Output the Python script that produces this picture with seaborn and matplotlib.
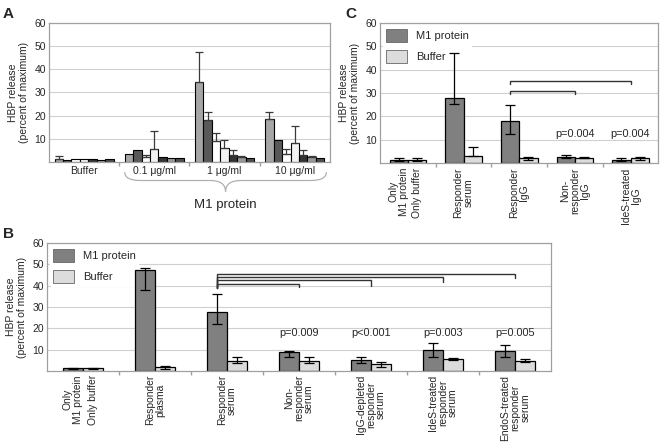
import numpy as np
import pandas as pd
import seaborn as sns
import matplotlib.pyplot as plt
from matplotlib.path import Path
from matplotlib.patches import PathPatch
import matplotlib.transforms as mtransforms

sns.set_theme(style='white')
plt.rcParams['font.family'] = ['Liberation Sans', 'DejaVu Sans']

# ---- panel A data (7 donors x 4 conditions) ----
a_groups = ['Buffer', '0.1 μg/ml', '1 μg/ml', '10 μg/ml']
a_donors = ['D1', 'D2', 'D3', 'D4', 'D5', 'D6', 'D7']
a_values = [
    [1.2, 3.5, 34.5, 18.5],
    [0.8, 5.0, 18.0, 9.5],
    [1.3, 2.0, 9.0, 3.5],
    [1.3, 5.5, 6.0, 8.0],
    [1.3, 2.0, 3.0, 3.0],
    [0.8, 1.5, 2.0, 2.0],
    [1.3, 1.5, 1.5, 1.5],
]
a_err_up = [
    [1.3, 0.0, 13.0, 3.0],
    [0.0, 0.0, 3.5, 0.0],
    [0.0, 1.0, 3.5, 2.0],
    [0.0, 8.0, 3.5, 7.5],
    [0.0, 0.0, 2.0, 2.0],
    [0.0, 0.0, 0.5, 0.5],
    [0.0, 0.0, 0.0, 0.0],
]
a_colors = ['#a6a6a6', '#595959', '#ffffff', '#f2f2f2', '#333333', '#999999', '#4d4d4d']

# ---- panel B data ----
b_groups = ['Only', 'Responder\nplasma', 'Responder\nserum', 'Non-\nresponder\nserum',
            'IgG-depleted\nresponder\nserum', 'IdeS-treated\nresponder\nserum',
            'EndoS-treated\nresponder\nserum']
b_m1 = [1.2, 47.5, 27.5, 8.8, 5.0, 10.0, 9.5]
b_m1_lo = [1.0, 38.0, 22.0, 6.5, 3.8, 6.5, 6.5]
b_m1_hi = [1.5, 48.5, 36.0, 9.5, 6.5, 13.0, 12.0]
b_buf = [1.2, 1.8, 4.8, 4.7, 3.0, 5.7, 4.8]
b_buf_lo = [1.0, 0.8, 3.5, 3.5, 2.0, 5.2, 4.0]
b_buf_hi = [1.4, 2.2, 6.5, 6.5, 4.0, 6.0, 5.5]
b_pvals = ['', '', '', 'p=0.009', 'p<0.001', 'p=0.003', 'p=0.005']

# ---- panel C data ----
c_groups = ['Only', 'Responder\nserum', 'Responder\nIgG', 'Non-\nresponder\nIgG', 'IdeS-treated\nIgG']
c_m1 = [1.5, 28.0, 18.0, 2.8, 1.5]
c_m1_lo = [0.8, 25.5, 12.5, 2.3, 0.8]
c_m1_hi = [2.3, 47.0, 25.0, 3.3, 2.3]
c_buf = [1.5, 3.0, 2.0, 2.3, 2.0]
c_buf_lo = [0.8, 3.0, 1.5, 2.0, 1.3]
c_buf_hi = [2.3, 7.0, 2.5, 2.5, 2.7]
c_pvals = ['', '', '', 'p=0.004', 'p=0.004']

first_labels = ['Only\nM1 protein', 'Only buffer']
treat = ['M1 protein', 'Buffer']
treat_colors = ['#808080', '#dcdcdc']

FS = 7.5
YLABEL = 'HBP release\n(percent of maximum)'


def style_axes(ax, ngroups):
    ax.set_ylim(0, 60)
    ax.set_yticks([10, 20, 30, 40, 50, 60])
    ax.set_xlim(-0.5, ngroups - 0.5)
    ax.yaxis.grid(True, color='#d0d0d0', lw=0.8)
    ax.set_axisbelow(True)
    for s in ax.spines.values():
        s.set_color('#a0a0a0')
        s.set_linewidth(0.9)
    ax.set_xticks(np.arange(ngroups - 1) + 0.5, minor=True)
    ax.tick_params(axis='x', which='minor', length=3, color='#a0a0a0', bottom=True)
    ax.tick_params(axis='x', which='major', length=0, labelsize=FS, pad=3)
    ax.tick_params(axis='y', length=0, labelsize=FS, pad=2)
    ax.set_xlabel('')
    ax.set_ylabel(YLABEL, fontsize=FS, linespacing=1.1)


def paired_panel(ax, groups, m1, m1_lo, m1_hi, buf, buf_lo, buf_hi, pvals, width, p_y):
    df = pd.DataFrame({
        'group': groups * 2,
        'treat': [treat[0]] * len(groups) + [treat[1]] * len(groups),
        'value': m1 + buf,
    })
    sns.barplot(data=df, x='group', y='value', hue='treat', order=groups,
                hue_order=treat, palette=treat_colors, errorbar=None,
                width=width, edgecolor='black', linewidth=0.9, ax=ax, legend=False,
                saturation=1)
    style_axes(ax, len(groups))
    centers = []
    for cont, vals, lo, hi in zip(ax.containers, [m1, buf], [m1_lo, buf_lo], [m1_hi, buf_hi]):
        xs = [b.get_x() + b.get_width() / 2 for b in cont]
        centers.append(xs)
        v = np.array(vals)
        ax.errorbar(xs, v, yerr=[v - np.array(lo), np.array(hi) - v], fmt='none',
                    ecolor='black', elinewidth=0.9, capsize=3.5, capthick=0.9)
    ticks = [centers[0][0], centers[1][0]] + list(range(1, len(groups)))
    ax.set_xticks(ticks)
    ax.set_xticklabels(first_labels + groups[1:], rotation=90, fontsize=7.4,
                       multialignment='center', linespacing=1.0)
    for i, p in enumerate(pvals):
        if p:
            ax.text(i, p_y, p, ha='center', va='center', fontsize=7.8)
    handles = [plt.Rectangle((0, 0), 1, 1, fc=c, ec='#666666', lw=0.6) for c in treat_colors]
    leg = ax.legend(handles, treat, loc='upper left', fontsize=8, frameon=True,
                    facecolor='white', edgecolor='none', framealpha=1,
                    handlelength=1.9, handleheight=1.4, borderaxespad=0.25,
                    borderpad=0.3, labelspacing=0.75, handletextpad=0.8)
    leg.set_zorder(0.8)
    return centers


def bracket(ax, x0, x1, y, y0_end, y1_end, color='#333333'):
    ax.plot([x0, x0, x1, x1], [y0_end, y, y, y1_end], color=color, lw=1.0,
            solid_joinstyle='miter')


fig = plt.figure(figsize=(6.61, 4.42), dpi=100)
axA = fig.add_axes([0.074, 0.634, 0.425, 0.314])
axC = fig.add_axes([0.575, 0.631, 0.421, 0.317])
axB = fig.add_axes([0.071, 0.161, 0.763, 0.289])

# ---- panel A ----
dfa = pd.DataFrame({
    'group': a_groups * len(a_donors),
    'donor': [d for d in a_donors for _ in a_groups],
    'value': [v for row in a_values for v in row],
})
sns.barplot(data=dfa, x='group', y='value', hue='donor', order=a_groups,
            hue_order=a_donors, palette=a_colors, errorbar=None, width=0.84,
            edgecolor='black', linewidth=0.8, ax=axA, legend=False, saturation=1)
style_axes(axA, len(a_groups))
axA.set_xticks(range(len(a_groups)))
axA.set_xticklabels(a_groups, fontsize=FS)
for cont, vals, errs in zip(axA.containers, a_values, a_err_up):
    for b, v, e in zip(cont, vals, errs):
        if e > 0:
            axA.errorbar(b.get_x() + b.get_width() / 2, v, yerr=[[0], [e]], fmt='none',
                         ecolor='#3a3a3a', elinewidth=0.9, capsize=2.8, capthick=0.9)

# curly brace under the M1 protein groups
trans = mtransforms.blended_transform_factory(axA.transData, axA.transAxes)
x0, x1 = 0.58, 3.45
xc = (x0 + x1) / 2
yt, ym, yb = -0.075, -0.135, -0.215
r = 0.22
verts = [(x0, yt), (x0, ym), (x0 + r, ym),
         (xc - r, ym), (xc, ym), (xc, yb),
         (xc, ym), (xc + r, ym),
         (x1 - r, ym), (x1, ym), (x1, yt)]
codes = [Path.MOVETO, Path.CURVE3, Path.CURVE3,
         Path.LINETO, Path.CURVE3, Path.CURVE3,
         Path.CURVE3, Path.CURVE3,
         Path.LINETO, Path.CURVE3, Path.CURVE3]
axA.add_patch(PathPatch(Path(verts, codes), transform=trans, fill=False,
                        ec='#b0b0b0', lw=0.9, clip_on=False))
axA.text(xc, -0.31, 'M1 protein', transform=trans, ha='center', va='center', fontsize=9.5)

# ---- panel B ----
cB = paired_panel(axB, b_groups, b_m1, b_m1_lo, b_m1_hi, b_buf, b_buf_lo, b_buf_hi,
                  b_pvals, 0.56, 17.8)
start = cB[0][2]
for g, lev, end in [(3, 40.8, 39.5), (4, 42.7, 40.0), (5, 44.0, 41.7), (6, 45.3, 43.6)]:
    bracket(axB, start, g, lev, 39.0, end)

# ---- panel C ----
cC = paired_panel(axC, c_groups, c_m1, c_m1_lo, c_m1_hi, c_buf, c_buf_lo, c_buf_hi,
                  c_pvals, 0.66, 12.4)
start = cC[0][2]
bracket(axC, start, 3, 30.9, 29.6, 29.6)
bracket(axC, start, 4, 35.1, 33.8, 33.8)

for lab, x, y in [('A', 0.004, 0.985), ('B', 0.004, 0.487), ('C', 0.522, 0.985)]:
    fig.text(x, y, lab, fontsize=11, fontweight='bold', ha='left', va='top')

fig.savefig('out.png', dpi=100)
